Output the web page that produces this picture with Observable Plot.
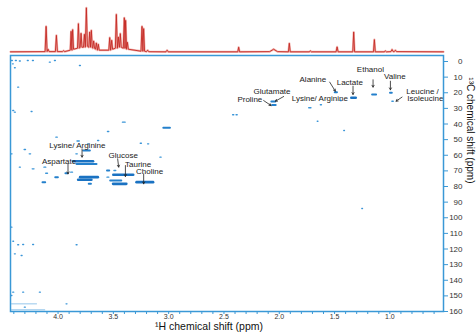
<!DOCTYPE html>
<html>
<head>
<meta charset="utf-8">
<script src="https://cdn.jsdelivr.net/npm/d3@7"></script>
<script src="https://cdn.jsdelivr.net/npm/@observablehq/plot@0.6"></script>
<style>
  html, body { margin: 0; padding: 0; background: #fff; }
  #chart svg { display: block; }
</style>
</head>
<body>
<div id="chart"></div>
<script>
// ---- 1D 1H spectrum: peak ppm, peak height, local floor (arbitrary intensity units)
const peakPpm   = [4.43, 4.108, 4.09, 4.015, 3.95, 3.882, 3.868, 3.816, 3.792, 3.762, 3.744, 3.714, 3.699, 3.678, 3.654, 3.636, 3.533, 3.515, 3.473, 3.455, 3.437, 3.401, 3.389, 3.373, 3.241, 3.226, 3.19, 3.014, 2.367, 2.051, 1.909, 1.719, 1.477, 1.327, 1.140, 1.041, 0.980, 0.950, 0.515];
const peakInt   = [0.4, 26, 3, 17, 1.5, 21, 22.7, 28.7, 19, 18, 44.7, 20.3, 22, 11.3, 9.3, 8, 14.7, 12, 38, 15.3, 18.7, 34.7, 32, 10, 26, 23.7, 2, 2, 5, 3, 9, 1.3, 5.3, 20.3, 12.7, 1.3, 2.7, 2, 0.4];
const peakFloor = [0.4, 0.6, 0.6, 0.6, 0.6, 2, 3, 4, 5, 5, 6, 5, 5, 4, 3, 2, 2, 3, 4, 5, 5, 4, 4, 3, 1, 1, 0.5, 0.4, 0.4, 0.6, 0.4, 0.4, 0.4, 0.4, 0.4, 0.4, 0.6, 0.6, 0.4];
const peakHalfWidth = [0, 0.009, 0.009, 0.009, 0.01, 0.008, 0.008, 0.008, 0.008, 0.008, 0.009, 0.008, 0.008, 0.008, 0.008, 0.008, 0.008, 0.008, 0.009, 0.008, 0.008, 0.009, 0.008, 0.008, 0.009, 0.008, 0.01, 0.01, 0.008, 0.035, 0.008, 0.01, 0.009, 0.008, 0.008, 0.01, 0.01, 0.01, 0];

// ---- 2D HSQC cross peaks: 1H ppm, 13C ppm, 1H half-extent (ppm), intensity level
const cpH = [2.049, 2.044, 1.484, 1.439, 1.324, 1.138, 0.986, 0.971, 1.719, 1.619, 1.649, 1.409, 2.412, 2.381, 1.246,
  3.014, 3.401, 3.543, 4.009, 3.814, 3.723, 3.633, 3.247, 3.181, 3.069, 3.738, 3.828, 4.296, 4.250, 4.416,
  3.769, 3.738, 4.115, 4.221, 3.919, 3.873, 4.099, 3.543, 3.482, 3.406, 3.716, 4.009, 4.124, 3.754, 3.545, 3.474, 3.438, 3.211, 3.708,
  4.413, 4.377, 4.341, 4.269, 4.223, 4.070, 4.024, 3.798, 4.404, 4.386, 4.356, 4.401, 4.386, 4.235, 4.341,
  4.416, 4.401, 4.356, 4.311, 4.221, 3.828, 4.386, 4.325, 4.401, 4.311, 4.160, 4.416, 4.303, 3.919, 4.296, 4.266];
const cpC = [25.6, 27.8, 19.6, 25.0, 23.2, 21.1, 20.0, 25.4, 29.6, 27.7, 38.2, 44.2, 34.1, 34.1, 94.1,
  42.4, 38.8, 44.8, 48.4, 50.9, 52.7, 50.6, 52.3, 52.7, 61.2, 57.0, 59.1, 56.3, 59.1, 59.1,
  63.8, 65.6, 67.6, 68.7, 71.5, 70.8, 71.5, 69.8, 69.8, 72.5, 74.0, 74.0, 77.2, 75.7, 74.0, 76.2, 78.3, 77.2, 78.3,
  -0.6, -0.6, -0.3, -0.6, -0.6, 0.4, -0.6, 2.6, 1.5, 4.0, 16.4, 31.4, 32.4, 32.0, 67.6,
  106.0, 115.0, 117.3, 117.1, 117.1, 117.3, 123.1, 124.2, 147.6, 147.6, 147.6, 149.8, 155.1, 155.1, 157.2, 158.9];
const cpW = [0.018, 0.016, 0.010, 0.005, 0.020, 0.018, 0.008, 0.006, 0.010, 0.005, 0.003, 0.003, 0.005, 0.005, 0.003,
  0.03, 0.012, 0.006, 0.006, 0.010, 0.005, 0.005, 0.005, 0.005, 0.005, 0.03, 0.006, 0.006, 0.006, 0.004,
  0.09, 0.09, 0.008, 0.008, 0.010, 0.008, 0.008, 0.010, 0.008, 0.09, 0.08, 0.012, 0.012, 0.06, 0.008, 0.05, 0.06, 0.075, 0.010,
  0.004, 0.004, 0.004, 0.004, 0.004, 0.004, 0.004, 0.004, 0.003, 0.003, 0.004, 0.004, 0.004, 0.004, 0.004,
  0.003, 0.003, 0.004, 0.004, 0.004, 0.004, 0.004, 0.004, 0.004, 0.004, 0.004, 0.003, 0.113, 0.004, 0.004, 0.15];
const cpI = [2, 2, 2, 1, 3, 2, 2, 1, 1, 1, 1, 1, 1, 1, 1,
  2, 1, 1, 1, 1, 1, 1, 1, 1, 1, 2, 1, 1, 1, 1,
  3, 2, 1, 1, 2, 1, 1, 2, 1, 3, 3, 2, 2, 3, 1, 2, 3, 3, 2,
  1, 1, 1, 1, 1, 1, 1, 1, 1, 1, 1, 1, 1, 1, 1,
  1, 1, 1, 1, 1, 1, 1, 1, 1, 1, 1, 1, 0, 1, 1, 0];

// ---- annotations
const labelText = ["Proline", "Glutamate", "Alanine", "Lysine/ Arginine", "Lactate", "Ethanol", "Valine", "Leucine /", "Isoleucine",
  "Lysine/ Arginine", "Aspartate", "Glucose", "Taurine", "Choline"];
const labelH = [2.266, 2.065, 1.696, 1.633, 1.362, 1.176, 0.955, 0.704, 0.679, 3.825, 3.991, 3.411, 3.276, 3.172];
const labelC = [24.0, 19.3, 11.7, 23.5, 13.2, 5.1, 9.6, 19.0, 23.9, 53.8, 64.0, 60.0, 65.6, 70.4];
const arrowH1 = [2.141, 1.960, 1.544, 1.333, 1.152, 0.995, 0.890, 3.783, 3.910, 3.461, 3.391, 3.226];
const arrowC1 = [25.0, 22.4, 13.2, 15.8, 11.7, 12.6, 22.8, 55.9, 65.5, 62.3, 66.6, 71.9];
const arrowH2 = [2.074, 2.035, 1.493, 1.333, 1.152, 0.995, 0.944, 3.783, 3.910, 3.452, 3.391, 3.226];
const arrowC2 = [28.2, 25.4, 19.0, 21.1, 16.4, 18.1, 25.4, 61.2, 71.9, 67.6, 73.6, 78.3];

// ---- axes
const xTicks = d3.range(6, 45).map(d => d / 10);
const yTicks = d3.range(0, 161, 10);
const xLabel = "¹H chemical shift (ppm)";
const yLabel = "¹³C chemical shift (ppm)";

// ---- build tables
const spectrum = [];
peakPpm.forEach((p, i) => {
  const w = peakHalfWidth[i];
  if (w === 0) { spectrum.push({ppm: p, v: peakInt[i]}); return; }
  spectrum.push({ppm: p + w, v: peakFloor[i]});
  spectrum.push({ppm: p, v: peakInt[i]});
  spectrum.push({ppm: p - w, v: peakFloor[i]});
});
const cross = cpH.map((h, i) => ({h, c: cpC[i], w: Math.max(cpW[i], 0.003), i: cpI[i]}));
const labels = labelText.map((t, i) => ({t, h: labelH[i], c: labelC[i]}));
const arrows = arrowH1.map((h, i) => ({h1: h, c1: arrowC1[i], h2: arrowH2[i], c2: arrowC2[i]}));

const FONT = "'Liberation Sans', Arial, Helvetica, sans-serif";
const BLUE = "#3a98d6";
const xDomain = [4.43, 0.515];
const mL = 10, mR = 33;

const topPlot = Plot.plot({
  width: 476, height: 54,
  marginLeft: mL, marginRight: mR, marginTop: 7, marginBottom: 2.3,
  x: {domain: xDomain, axis: null},
  y: {domain: [0, 45], axis: null},
  style: {fontFamily: FONT, background: "transparent"},
  marks: [
    Plot.line(spectrum, {x: "ppm", y: "v", stroke: "#f2b3ae", strokeWidth: 2.2}),
    Plot.line(spectrum, {x: "ppm", y: "v", stroke: "#c42a25", strokeWidth: 0.9})
  ]
});

const mainPlot = Plot.plot({
  width: 476, height: 278,
  marginLeft: mL, marginRight: mR, marginTop: 1, marginBottom: 21,
  x: {domain: xDomain, axis: null},
  y: {domain: [-3.84, 160], reverse: true, axis: null},
  style: {fontFamily: FONT, background: "transparent"},
  marks: [
    Plot.ruleY(cross, {
      y: "c", x1: d => d.h + d.w, x2: d => d.h - d.w,
      stroke: d => d.i >= 3 ? "#1a72c2" : d.i === 2 ? "#2480cc" : "#3a95d8",
      strokeWidth: d => d.i >= 3 ? 2.6 : d.i === 2 ? 2.0 : d.i === 1 ? 1.4 : 0.9,
      strokeLinecap: "round",
      strokeOpacity: d => d.i === 0 ? 0.6 : 1
    }),
    Plot.arrow(arrows, {x1: "h1", y1: "c1", x2: "h2", y2: "c2", stroke: "#222", strokeWidth: 0.8, headLength: 4, insetEnd: 0, insetStart: 0}),
    Plot.text(labels, {x: "h", y: "c", text: "t", fontSize: 8, fill: "#222"}),
    Plot.frame({stroke: BLUE, strokeWidth: 1.5}),
    Plot.axisX({ticks: xTicks, tickSize: 3, tickPadding: 0, stroke: BLUE, fill: "#333", fontSize: 7, label: null,
      tickFormat: d => Math.abs(d * 2 - Math.round(d * 2)) < 1e-6 ? d.toFixed(1) : ""}),
    Plot.axisY({anchor: "right", ticks: yTicks, tickSize: 4, tickPadding: 15, textAnchor: "end", stroke: BLUE, fill: "#333", fontSize: 8, label: null}),
    Plot.text([xLabel], {text: d => d, frameAnchor: "bottom", dy: 18.5, dx: -18, fontSize: 10.5, fill: "#111"}),
    Plot.text([yLabel], {text: d => d, frameAnchor: "right", rotate: 90, dx: 27, fontSize: 10, fill: "#111"})
  ]
});

const chart = document.getElementById("chart");
chart.appendChild(topPlot);
chart.appendChild(mainPlot);
</script>
</body>
</html>
